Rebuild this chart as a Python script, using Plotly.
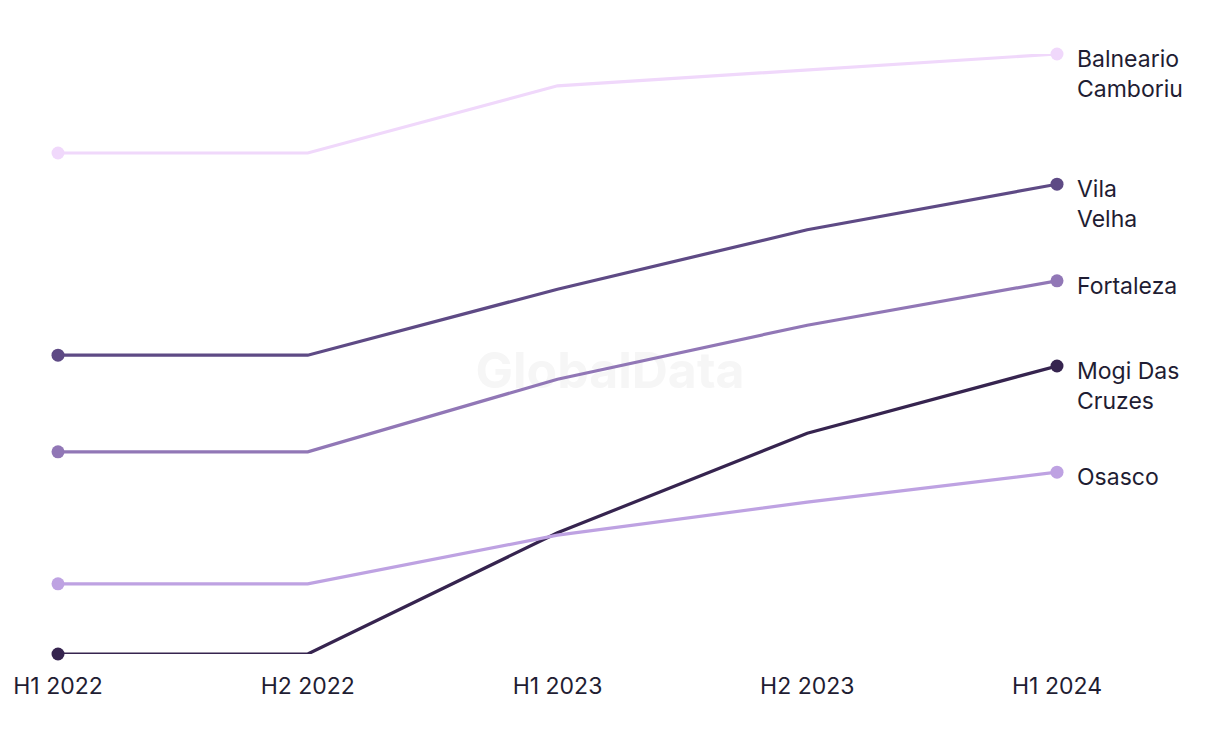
import plotly.graph_objects as go

periods = ["H1 2022", "H2 2022", "H1 2023", "H2 2023", "H1 2024"]
cities = ["Balneario Camboriu", "Vila Velha", "Fortaleza", "Mogi Das Cruzes", "Osasco"]
labels = ["Balneario<br>Camboriu", "Vila<br>Velha", "Fortaleza", "Mogi Das<br>Cruzes", "Osasco"]
balneario = [83.5, 83.5, 94.7, 97.3, 100.0]
vila_velha = [49.8, 49.8, 60.8, 70.7, 78.3]
fortaleza = [33.7, 33.7, 45.8, 54.8, 62.2]
mogi = [0.0, 0.0, 20.2, 36.8, 48.0]
osasco = [11.7, 11.7, 19.8, 25.3, 30.3]
series = [balneario, vila_velha, fortaleza, mogi, osasco]
colors = ["#f0d8fb", "#5e4a85", "#9177b6", "#36244f", "#bea2e2"]

x = list(range(len(periods)))
fig = go.Figure()

# watermark beneath the lines
fig.add_trace(go.Scatter(
    x=[2.21], y=[46.5], mode="text", text=["<b>GlobalData</b>"],
    textfont=dict(family="Inter, Arial", size=50, color="#f6f6f6"),
    hoverinfo="skip", cliponaxis=False))

for name, vals, col in zip(cities, series, colors):
    fig.add_trace(go.Scatter(
        x=x, y=vals, mode="lines", name=name, cliponaxis=False,
        line=dict(color=col, width=3.2), hoverinfo="skip"))
    fig.add_trace(go.Scatter(
        x=[x[0], x[-1]], y=[vals[0], vals[-1]], mode="markers",
        marker=dict(color=col, size=13), cliponaxis=False, hoverinfo="skip"))

for lab, vals in zip(labels, series):
    fig.add_annotation(x=x[-1], y=vals[-1], text=lab, showarrow=False,
                       xanchor="left", yanchor="top", xshift=18, yshift=11,
                       align="left",
                       font=dict(family="Inter, Arial", size=23, color="#1f1d33"))

fig.update_layout(
    width=1220, height=744,
    margin=dict(l=58, r=163, t=54, b=90),
    paper_bgcolor="white", plot_bgcolor="white",
    showlegend=False,
    xaxis=dict(tickmode="array", tickvals=x, ticktext=periods, range=[0, 4],
               showgrid=False, zeroline=False, showline=False, ticks="",
               ticklabelstandoff=16,
               tickfont=dict(family="Inter, Arial", size=23, color="#1f1d33")),
    yaxis=dict(range=[0, 100], visible=False, showgrid=False, zeroline=False),
)
fig.write_html("out.html")
